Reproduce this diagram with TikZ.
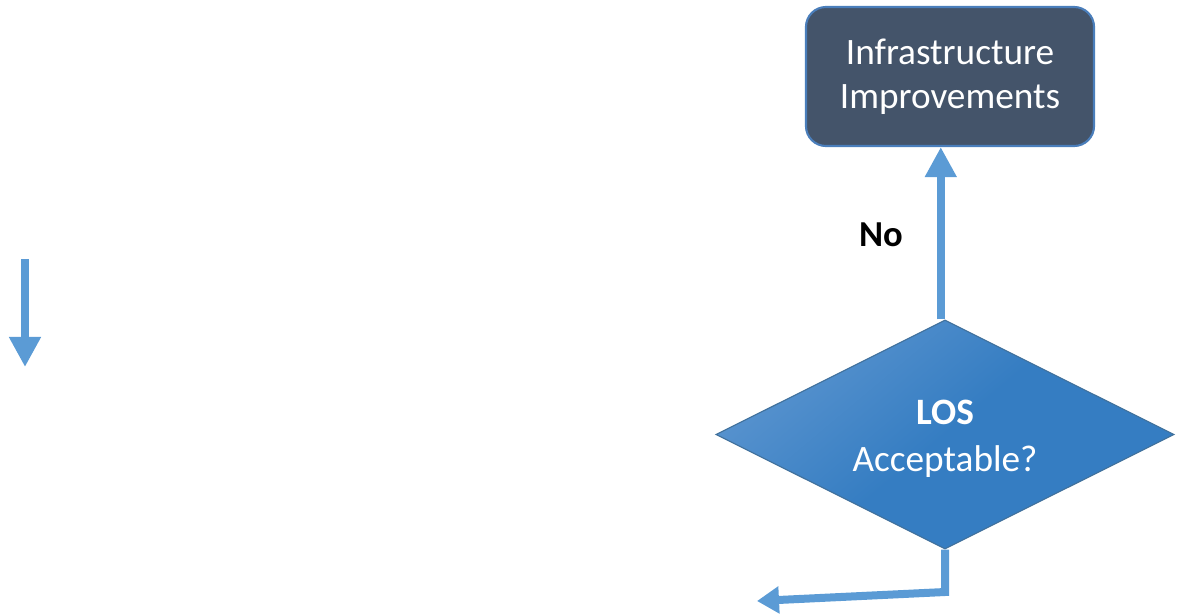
\documentclass[tikz,border=0pt]{standalone}
\usepackage{fontspec}
\setmainfont{Carlito}
\usetikzlibrary{positioning, arrows.meta, shapes.geometric}

\definecolor{flowBlue}{HTML}{5B9BD5}
\definecolor{boxFill}{HTML}{44546A}
\definecolor{boxEdge}{HTML}{4A7EBB}
\definecolor{diaDark}{HTML}{357DC2}
\definecolor{diaLight}{HTML}{5A94CF}
\definecolor{diaEdge}{HTML}{41719C}

\begin{document}
\begin{tikzpicture}[x=0.025cm, y=-0.025cm,
    flow/.style={draw=flowBlue, line width=0.2cm,
        -{Triangle[width=0.75cm,length=0.75cm]}},
    actbox/.style={rectangle, rounded corners=0.5cm, draw=boxEdge, line width=1.5pt,
        fill=boxFill, text=white, align=center, font=\fontsize{26.5}{31.5}\selectfont,
        minimum width=7.2cm, minimum height=3.475cm, inner sep=0pt},
    decision/.style={diamond, draw=diaEdge, line width=0.8pt,
        top color=diaLight, bottom color=diaDark, middle color=diaDark, shading angle=40,
        minimum width=11.45cm, minimum height=5.725cm, inner sep=0pt},
    dectext/.style={text=white, align=center, font=\fontsize{26.5}{33}\selectfont}]

    % --- Rahmen ---
    \useasboundingbox (0,0) rectangle (1179,613);

    % --- Knoten ---
    \node[actbox] (improve) at (950,76.5) {Infrastructure\\Improvements};
    \node[decision] (los) at (945,434.5) {};
    \node[dectext] (losText) at ([yshift=-3]los.center) {\textbf{LOS}\\Acceptable?};
    \node[font=\fontsize{26}{30}\selectfont\bfseries] (no) at (881,235) {No};

    % freie Enden
    \coordinate (inTop) at (25,259);
    \coordinate (inEnd) at (25,367);
    \coordinate (bend) at (945,592);
    \coordinate (outEnd) at (757,601);
    \coordinate (upStart) at ([xshift=-3]los.north);

    % --- Verbindungen ---
    \draw[flow] (inTop) -- (inEnd);
    \draw[flow] (upStart) -- (upStart |- improve.south);
    \draw[flow, -{Triangle[width=0.65cm,length=0.55cm]}] (los.south) -- (bend) -- (outEnd);

\end{tikzpicture}
\end{document}
